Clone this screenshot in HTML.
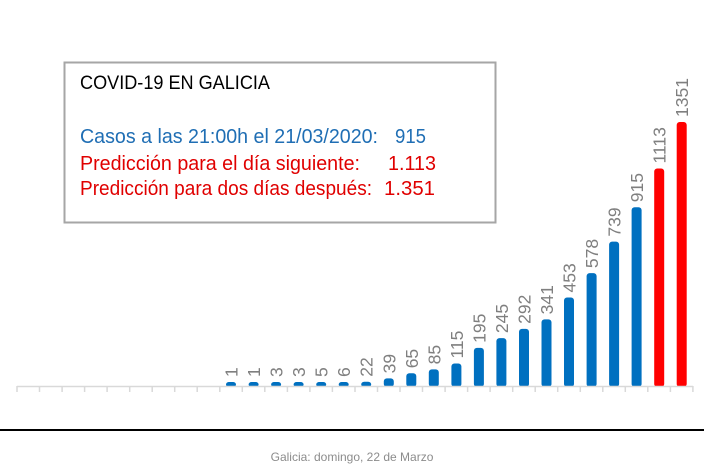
<!DOCTYPE html>
<html><head><meta charset="utf-8"><style>
html,body{margin:0;padding:0;background:#fff;width:704px;height:470px;overflow:hidden}
svg{display:block;font-family:"Liberation Sans",sans-serif}
</style></head><body>
<svg width="704" height="470" viewBox="0 0 704 470" xmlns="http://www.w3.org/2000/svg">
<rect x="64.5" y="62.5" width="431" height="160" fill="#fff" stroke="#a6a6a6" stroke-width="2"/>
<text x="80" y="89" font-size="19" fill="#000" textLength="190" lengthAdjust="spacingAndGlyphs">COVID-19 EN GALICIA</text>
<text x="80" y="143" font-size="20" fill="#1f6eb4" textLength="298" lengthAdjust="spacingAndGlyphs">Casos a las 21:00h el 21/03/2020:</text>
<text x="395" y="143" font-size="20" fill="#1f6eb4" textLength="31" lengthAdjust="spacingAndGlyphs">915</text>
<text x="80" y="170" font-size="20" fill="#e00000" textLength="280" lengthAdjust="spacingAndGlyphs">Predicción para el día siguiente:</text>
<text x="388" y="170" font-size="20" fill="#e00000" textLength="48" lengthAdjust="spacingAndGlyphs">1.113</text>
<text x="80" y="195" font-size="20" fill="#e00000" textLength="292" lengthAdjust="spacingAndGlyphs">Predicción para dos días después:</text>
<text x="384" y="195" font-size="20" fill="#e00000" textLength="51" lengthAdjust="spacingAndGlyphs">1.351</text>
<g fill="#0070c0">
<rect x="226" y="382" width="10" height="5" rx="3"/>
<rect x="248.6" y="382" width="10" height="5" rx="3"/>
<rect x="271.1" y="382" width="10" height="5" rx="3"/>
<rect x="293.6" y="382" width="10" height="5" rx="3"/>
<rect x="316.2" y="382" width="10" height="5" rx="3"/>
<rect x="338.7" y="382" width="10" height="5" rx="3"/>
<rect x="361.2" y="381.7" width="10" height="5.3" rx="3"/>
<rect x="383.8" y="378.4" width="10" height="8.6" rx="3"/>
<rect x="406.3" y="373.3" width="10" height="13.7" rx="3"/>
<rect x="428.8" y="369.4" width="10" height="17.6" rx="3"/>
<rect x="451.4" y="363.5" width="10" height="23.5" rx="3"/>
<rect x="473.9" y="347.9" width="10" height="39.1" rx="3"/>
<rect x="496.4" y="338.1" width="10" height="48.9" rx="3"/>
<rect x="519" y="328.9" width="10" height="58.1" rx="3"/>
<rect x="541.5" y="319.4" width="10" height="67.6" rx="3"/>
<rect x="564" y="297.5" width="10" height="89.5" rx="3"/>
<rect x="586.6" y="273.1" width="10" height="113.9" rx="3"/>
<rect x="609.1" y="241.6" width="10" height="145.4" rx="3"/>
<rect x="631.6" y="207.2" width="10" height="179.8" rx="3"/>
</g>
<g fill="#ff0000">
<rect x="654.2" y="168.5" width="10" height="218.5" rx="3"/>
<rect x="676.7" y="122" width="10" height="265" rx="3"/>
</g>
<rect x="0" y="386.2" width="704" height="6" fill="#fff"/>
<g stroke="#d9d9d9" stroke-width="1.5">
<line x1="17" y1="386.5" x2="693" y2="386.5"/>
<line x1="17" y1="386" x2="17" y2="392"/><line x1="39.5" y1="386" x2="39.5" y2="392"/><line x1="62.1" y1="386" x2="62.1" y2="392"/><line x1="84.6" y1="386" x2="84.6" y2="392"/><line x1="107.1" y1="386" x2="107.1" y2="392"/><line x1="129.7" y1="386" x2="129.7" y2="392"/><line x1="152.2" y1="386" x2="152.2" y2="392"/><line x1="174.7" y1="386" x2="174.7" y2="392"/><line x1="197.2" y1="386" x2="197.2" y2="392"/><line x1="219.8" y1="386" x2="219.8" y2="392"/><line x1="242.3" y1="386" x2="242.3" y2="392"/><line x1="264.8" y1="386" x2="264.8" y2="392"/><line x1="287.4" y1="386" x2="287.4" y2="392"/><line x1="309.9" y1="386" x2="309.9" y2="392"/><line x1="332.4" y1="386" x2="332.4" y2="392"/><line x1="355" y1="386" x2="355" y2="392"/><line x1="377.5" y1="386" x2="377.5" y2="392"/><line x1="400" y1="386" x2="400" y2="392"/><line x1="422.5" y1="386" x2="422.5" y2="392"/><line x1="445.1" y1="386" x2="445.1" y2="392"/><line x1="467.6" y1="386" x2="467.6" y2="392"/><line x1="490.1" y1="386" x2="490.1" y2="392"/><line x1="512.7" y1="386" x2="512.7" y2="392"/><line x1="535.2" y1="386" x2="535.2" y2="392"/><line x1="557.7" y1="386" x2="557.7" y2="392"/><line x1="580.3" y1="386" x2="580.3" y2="392"/><line x1="602.8" y1="386" x2="602.8" y2="392"/><line x1="625.3" y1="386" x2="625.3" y2="392"/><line x1="647.8" y1="386" x2="647.8" y2="392"/><line x1="670.4" y1="386" x2="670.4" y2="392"/><line x1="692.9" y1="386" x2="692.9" y2="392"/>
</g>
<g font-size="17.5" fill="#7f7f7f">
<text transform="translate(237.5,377) rotate(-90)">1</text>
<text transform="translate(260.1,377) rotate(-90)">1</text>
<text transform="translate(282.6,377) rotate(-90)">3</text>
<text transform="translate(305.1,377) rotate(-90)">3</text>
<text transform="translate(327.7,377) rotate(-90)">5</text>
<text transform="translate(350.2,377) rotate(-90)">6</text>
<text transform="translate(372.7,376.7) rotate(-90)">22</text>
<text transform="translate(395.3,373.4) rotate(-90)">39</text>
<text transform="translate(417.8,368.3) rotate(-90)">65</text>
<text transform="translate(440.3,364.4) rotate(-90)">85</text>
<text transform="translate(462.9,358.5) rotate(-90)">115</text>
<text transform="translate(485.4,342.9) rotate(-90)">195</text>
<text transform="translate(507.9,333.1) rotate(-90)">245</text>
<text transform="translate(530.5,323.9) rotate(-90)">292</text>
<text transform="translate(553,314.4) rotate(-90)">341</text>
<text transform="translate(575.5,292.5) rotate(-90)">453</text>
<text transform="translate(598.1,268.1) rotate(-90)">578</text>
<text transform="translate(620.6,236.6) rotate(-90)">739</text>
<text transform="translate(643.1,202.2) rotate(-90)">915</text>
<text transform="translate(665.7,163.5) rotate(-90)">1113</text>
<text transform="translate(688.2,117) rotate(-90)">1351</text>
</g>
<line x1="0" y1="430" x2="704" y2="430" stroke="#000" stroke-width="2"/>
<text x="352" y="461" font-size="12" fill="#8c8c8c" text-anchor="middle">Galicia: domingo, 22 de Marzo</text>
</svg>
</body></html>
